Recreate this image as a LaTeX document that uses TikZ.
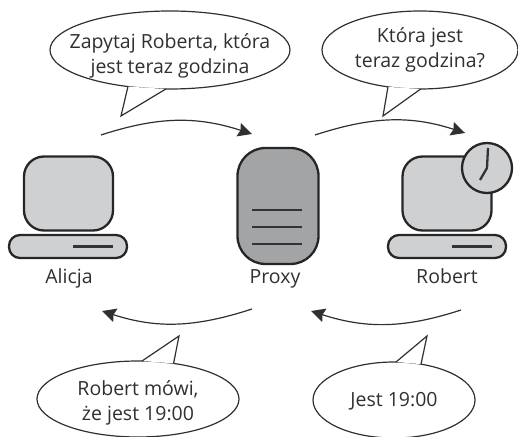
\documentclass[tikz,border=0pt]{standalone}
\usepackage{fontspec}
\setmainfont{Open Sans}
\usetikzlibrary{calc}
\usetikzlibrary{shapes}
\usetikzlibrary{arrows.meta}

\definecolor{inkgray}{HTML}{303032}
\definecolor{screengray}{HTML}{CFD0D2}
\definecolor{servergray}{HTML}{A3A4A6}

\begin{document}
\begin{tikzpicture}[x=1pt, y=1pt]
	\tikzset{bubble/.style = {ellipse, draw = inkgray, line width = 1.2pt, fill = white, inner sep = 0pt, outer sep = 0pt}}
	\tikzset{bubbletail/.style = {draw = inkgray, line width = 1.2pt, fill = white, line join = miter}}
	\tikzset{saying/.style = {align = center, text = inkgray, font = \fontsize{19.5}{25}\selectfont}}
	\tikzset{hostname/.style = {text = inkgray, text height = 15pt, text depth = 4pt, font = \fontsize{19.5}{22}\selectfont}}
	\tikzset{hull/.style = {draw = black!85, line width = 2.3pt, fill = screengray, inner sep = 0pt, outer sep = 0pt}}
	\tikzset{slot/.style = {draw = black!80, line width = 2.3pt}}
	\tikzset{hop/.style = {draw = inkgray, line width = 1.2pt, -{Stealth[length = 14pt, width = 14pt, inset = 2pt]}}}
	\useasboundingbox (0,0) rectangle (518,436);

%% Alicja computer
\draw (68.5,242.5) node[hull, name = alicescreen, rounded corners = 20pt, minimum width = 89pt, minimum height = 74pt]{};
\draw (68,189.5) node[hull, name = alicebase, rounded corners = 11pt, minimum width = 118pt, minimum height = 23pt]{};
\draw[slot] ($(alicebase.center) + (5,0)$) -- +(40,0);
\draw (69,157.5) node[hostname, name = alicelabel]{Alicja};

%% Proxy server
\draw (278,230) node[hull, name = proxy, fill = servergray, rounded corners = 28pt, minimum width = 81pt, minimum height = 116pt]{};
\draw[slot] (252,226) -- (302,226);
\draw[slot] (252,209) -- (302,209);
\draw[slot] (252,192) -- (302,192);
\draw (275,157.5) node[hostname, name = proxylabel]{Proxy};

%% Robert computer
\draw (447,242.5) node[hull, name = robertscreen, rounded corners = 20pt, minimum width = 89pt, minimum height = 74pt]{};
\draw (447,189.5) node[hull, name = robertbase, rounded corners = 11pt, minimum width = 118pt, minimum height = 23pt]{};
\draw[slot] ($(robertbase.center) + (5,0)$) -- +(40,0);
\draw (447,157.5) node[hostname, name = robertlabel]{Robert};

%% Clock
\draw (487,268) node[hull, name = clock, circle, minimum size = 50pt]{};
\draw[slot, line join = miter] (488,288) -- (clock.center) -- (480,256);

%% Bubbles
\draw (170,386) node[bubble, name = askproxy, minimum width = 240pt, minimum height = 78pt]{};
\draw (420,386) node[bubble, name = asktime, minimum width = 196pt, minimum height = 78pt]{};
\draw (138,37) node[bubble, name = tellalice, minimum width = 202pt, minimum height = 76pt]{};
\draw (394,36) node[bubble, name = tellproxy, minimum width = 162pt, minimum height = 76pt]{};

%% Tails
\coordinate (askproxytip) at (121,320);
\coordinate (asktimetip) at (383,320);
\coordinate (tellalicetip) at (179,100);
\coordinate (tellproxytip) at (427,100);
\draw[bubbletail] (askproxy.221) -- (askproxytip) -- (askproxy.264);
\draw[bubbletail] (asktime.229) -- (asktimetip) -- (asktime.271);
\draw[bubbletail] (tellalice.84) -- (tellalicetip) -- (tellalice.45);
\draw[bubbletail] (tellproxy.87) -- (tellproxytip) -- (tellproxy.53);

%% Texts
\draw (askproxy.center) node[saying, name = askproxytext, yshift = -6pt]{Zapytaj Roberta, która\\jest teraz godzina};
\draw (asktime.center) node[saying, name = asktimetext, yshift = 0pt]{Która jest\\teraz godzina?};
\draw (tellalice.center) node[saying, name = tellalicetext, yshift = -4pt]{Robert mówi,\\że jest 19:00};
\draw (tellproxy.center) node[saying, name = tellproxytext, yshift = -1pt]{Jest 19:00};

%% Edges
\coordinate (hopa) at (101,301);
\coordinate (hopb) at (252,302);
\coordinate (hopc) at (315,301);
\coordinate (hopd) at (465,303);
\coordinate (hope) at (252,127);
\coordinate (hopf) at (102,125);
\coordinate (hopg) at (461,126);
\coordinate (hoph) at (311,125);
\draw[hop] (hopa) to[out = 18, in = 162] (hopb);
\draw[hop] (hopc) to[out = 18, in = 162] (hopd);
\draw[hop] (hope) to[out = 198, in = 342] (hopf);
\draw[hop] (hopg) to[out = 198, in = 342] (hoph);

\end{tikzpicture}
\end{document}
